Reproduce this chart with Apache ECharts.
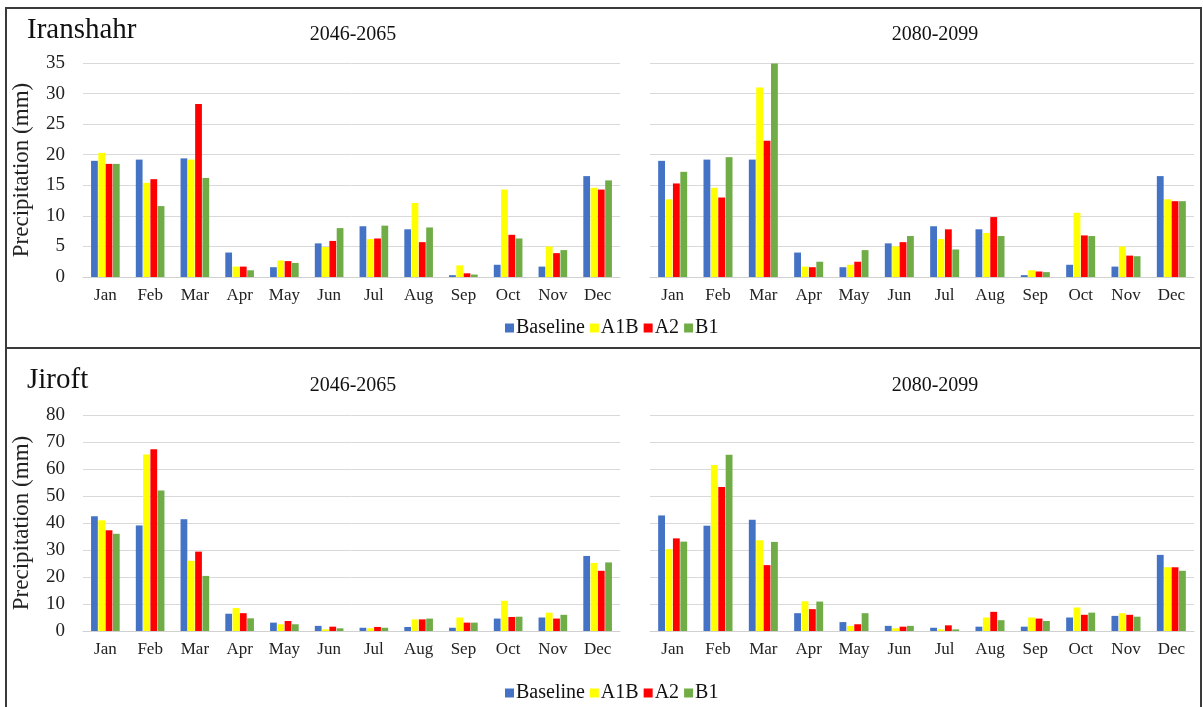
<!DOCTYPE html>
<html>
<head>
<meta charset="utf-8">
<script src="https://cdn.jsdelivr.net/npm/echarts@6/dist/echarts.min.js"></script>
<style>html,body{margin:0;padding:0;background:#fff}#c{width:1203px;height:707px}</style>
</head>
<body>
<div id="c"></div>
<script>
const months = ['Jan','Feb','Mar','Apr','May','Jun','Jul','Aug','Sep','Oct','Nov','Dec'];
const seriesNames = ['Baseline','A1B','A2','B1'];
const stations = ['Iranshahr','Jiroft'];
const periods = ['2046-2065','2080-2099'];
const yTitle = 'Precipitation (mm)';

// Iranshahr 2046-2065
const iran1_base = [19.0,19.2,19.4,4.0,1.6,5.5,8.3,7.8,0.3,2.0,1.7,16.5];
const iran1_a1b  = [20.3,15.4,19.2,1.7,2.7,4.9,6.2,12.1,1.9,14.3,5.0,14.6];
const iran1_a2   = [18.5,16.0,28.3,1.7,2.6,5.9,6.3,5.7,0.6,6.9,3.9,14.3];
const iran1_b1   = [18.5,11.6,16.2,1.1,2.3,8.0,8.4,8.1,0.4,6.3,4.4,15.8];
// Iranshahr 2080-2099
const iran2_base = [19.0,19.2,19.2,4.0,1.6,5.5,8.3,7.8,0.3,2.0,1.7,16.5];
const iran2_a1b  = [12.7,14.6,31.0,1.7,2.0,5.0,6.2,7.2,1.1,10.5,5.0,12.7];
const iran2_a2   = [15.3,13.0,22.3,1.6,2.5,5.7,7.8,9.8,0.9,6.8,3.5,12.4];
const iran2_b1   = [17.2,19.6,34.9,2.5,4.4,6.7,4.5,6.7,0.8,6.7,3.4,12.4];
// Jiroft 2046-2065
const jir1_base = [42.5,39.1,41.4,6.4,3.1,1.9,1.2,1.5,1.2,4.6,5.0,27.8];
const jir1_a1b  = [41.0,65.4,26.0,8.5,2.5,0.6,1.0,4.3,5.0,11.2,6.8,25.2];
const jir1_a2   = [37.3,67.3,29.4,6.6,3.7,1.6,1.5,4.3,3.1,5.2,4.6,22.3];
const jir1_b1   = [36.0,52.0,20.4,4.7,2.5,1.0,1.2,4.6,3.1,5.3,6.0,25.4];
// Jiroft 2080-2099
const jir2_base = [42.8,39.0,41.2,6.6,3.3,1.9,1.2,1.6,1.6,5.0,5.6,28.2];
const jir2_a1b  = [30.3,61.5,33.6,11.0,1.9,1.0,0.6,5.0,5.0,8.7,6.6,23.6];
const jir2_a2   = [34.3,53.3,24.4,8.1,2.5,1.6,2.1,7.1,4.6,6.0,6.0,23.6];
const jir2_b1   = [33.1,65.3,33.0,10.9,6.6,1.9,0.6,4.0,3.7,6.8,5.3,22.3];

const yTicks = { iran: {max: 35, interval: 5}, jir: {max: 80, interval: 10} };

const colors = ['#4472C4','#FFFF00','#FF0000','#70AD47'];
const FONT = '"Liberation Serif","DejaVu Serif",serif';

const panels = [
  [iran1_base, iran1_a1b, iran1_a2, iran1_b1],
  [iran2_base, iran2_a1b, iran2_a2, iran2_b1],
  [jir1_base, jir1_a1b, jir1_a2, jir1_b1],
  [jir2_base, jir2_a1b, jir2_a2, jir2_b1]
];

const grids = [
  {left: 83, right: 583, top: 63, bottom: 430},
  {left: 650, right: 9, top: 63, bottom: 430},
  {left: 83, right: 583, top: 415, bottom: 76},
  {left: 650, right: 9, top: 415, bottom: 76}
];

const xAxes = grids.map((g, i) => ({
  type: 'category', gridIndex: i, data: months,
  axisTick: {show: false},
  axisLine: {lineStyle: {color: '#d0d0d0'}},
  axisLabel: {color: '#222', fontFamily: FONT, fontSize: 17, margin: 10, interval: 0}
}));

const yAxes = grids.map((g, i) => {
  const t = i < 2 ? yTicks.iran : yTicks.jir;
  return {
    type: 'value', gridIndex: i, min: 0, max: t.max, interval: t.interval,
    name: (i % 2 === 0) ? yTitle : '',
    nameLocation: 'middle', nameGap: 50,
    nameTextStyle: {color: '#222', fontFamily: FONT, fontSize: 23},
    axisLine: {show: false}, axisTick: {show: false},
    axisLabel: {show: i % 2 === 0, color: '#222', fontFamily: FONT, fontSize: 19, margin: 18},
    splitLine: {lineStyle: {color: '#d9d9d9', width: 1}}
  };
});

const series = [];
panels.forEach((p, gi) => {
  p.forEach((vals, si) => {
    series.push({
      type: 'bar', name: seriesNames[si], xAxisIndex: gi, yAxisIndex: gi,
      data: vals, barGap: '8%', barCategoryGap: '36%',
      itemStyle: {color: colors[si]}, animation: false
    });
  });
});

const titleStyle = (size) => ({color: '#111', fontFamily: FONT, fontSize: size, fontWeight: 'normal'});
const title = [
  {text: stations[0], left: 22, top: 11, textStyle: titleStyle(29)},
  {text: periods[0], left: 348, top: 20, textAlign: 'center', textStyle: titleStyle(20)},
  {text: periods[1], left: 930, top: 20, textAlign: 'center', textStyle: titleStyle(20)},
  {text: stations[1], left: 22, top: 361, textStyle: titleStyle(29)},
  {text: periods[0], left: 348, top: 371, textAlign: 'center', textStyle: titleStyle(20)},
  {text: periods[1], left: 930, top: 371, textAlign: 'center', textStyle: titleStyle(20)}
];

const legendBase = {
  data: seriesNames, left: 500, itemWidth: 9, itemHeight: 9, itemGap: 5,
  icon: 'rect', selectedMode: false,
  textStyle: {color: '#111', fontFamily: FONT, fontSize: 20, padding: [0, 0, 0, -3]}
};

const chart = echarts.init(document.getElementById('c'));
chart.setOption({
  backgroundColor: '#fff',
  animation: false,
  title: title,
  legend: [
    Object.assign({}, legendBase, {top: 313}),
    Object.assign({}, legendBase, {top: 678})
  ],
  grid: grids,
  xAxis: xAxes,
  yAxis: yAxes,
  series: series,
  graphic: [
    {type: 'rect', shape: {x: 6, y: 8, width: 1195, height: 702}, style: {fill: 'none', stroke: '#3a3a3a', lineWidth: 2}, silent: true},
    {type: 'line', shape: {x1: 6, y1: 348, x2: 1201, y2: 348}, style: {stroke: '#3a3a3a', lineWidth: 2}, silent: true}
  ]
});
</script>
</body>
</html>
